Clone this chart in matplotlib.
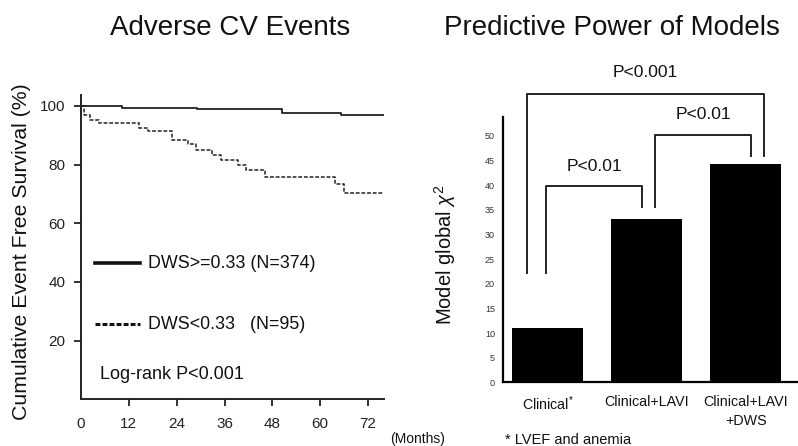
import matplotlib
matplotlib.use("Agg")
import matplotlib.pyplot as plt

plt.rcParams['font.family'] = ['Liberation Sans', 'DejaVu Sans']
plt.rcParams['mathtext.fontset'] = 'custom'
plt.rcParams['mathtext.rm'] = 'Liberation Sans'
plt.rcParams['mathtext.it'] = 'Liberation Sans:italic'

# Kaplan-Meier curves (months, % event free)
high_t = [0, 10.2, 29.1, 50.5, 65.2, 76]
high_s = [100, 99.3, 98.8, 97.7, 96.9, 96.9]
low_t = [0, 0.8, 2.3, 4.5, 14.6, 16.7, 22.8, 26.8, 28.9, 32.9, 35.0, 39.4,
         41.5, 46.1, 63.7, 66.0, 76]
low_s = [100, 97.0, 95.3, 94.3, 92.6, 91.3, 88.3, 86.9, 84.8, 83.1, 81.4, 79.7,
         78.0, 75.9, 73.2, 70.3, 70.3]
month_ticks = [0, 12, 24, 36, 48, 60, 72]
surv_ticks = [20, 40, 60, 80, 100]

# Model chi-square
models = ["Clinical$^{*}$", "Clinical+LAVI", "Clinical+LAVI\n+DWS"]
chi2 = [11.0, 33.2, 44.4]
chi_ticks = list(range(0, 55, 5))

# significance brackets: (x left, x right, y left foot, y right foot, y top, label, label y)
brackets = [
    (-0.02, 0.957, 22.2, 35.6, 39.9, "P<0.01", 43.8),
    (1.084, 2.058, 35.6, 45.9, 50.2, "P<0.01", 54.3),
    (-0.215, 2.19, 22.1, 45.9, 58.5, "P<0.001", 62.9),
]

fig = plt.figure(figsize=(7.98, 4.46), dpi=100)

# ---- left: survival
ax1 = fig.add_axes([0.1015, 0.1047, 0.3797, 0.6823])
ax1.step(high_t, high_s, where='post', color='#222222', lw=1.3)
ax1.step(low_t, low_s, where='post', color='#222222', lw=1.1, linestyle=(0, (2.5, 1.2)))
ax1.set_xlim(0, 76)
ax1.set_ylim(0, 103.7)
ax1.set_xticks(month_ticks)
ax1.set_yticks(surv_ticks)
ax1.tick_params(axis='both', labelsize=11, length=5, width=1.3, colors='#222222')
ax1.tick_params(axis='x', pad=8)
ax1.tick_params(axis='y', pad=6)
ax1.xaxis.get_major_ticks()[0].tick1line.set_visible(False)
for s in ['top', 'right']:
    ax1.spines[s].set_visible(False)
for s in ['left', 'bottom']:
    ax1.spines[s].set_linewidth(1.4)
    ax1.spines[s].set_color('#222222')

ax1.plot([0.046, 0.195], [0.447, 0.447], transform=ax1.transAxes, color='#111111', lw=2.6)
ax1.text(0.221, 0.447, "DWS>=0.33 (N=374)", transform=ax1.transAxes, fontsize=12.9,
         va='center', color='#111111')
ax1.plot([0.046, 0.195], [0.246, 0.246], transform=ax1.transAxes, color='#111111', lw=2.2,
         linestyle=(0, (1.6, 0.7)))
ax1.text(0.221, 0.246, "DWS<0.33   (N=95)", transform=ax1.transAxes, fontsize=12.9,
         va='center', color='#111111')
ax1.text(0.063, 0.08, "Log-rank P<0.001", transform=ax1.transAxes, fontsize=13,
         va='center', color='#111111')

fig.text(0.027, 0.435, "Cumulative Event Free Survival (%)", rotation=90, fontsize=15.3,
         ha='center', va='center', color='#111111')
fig.text(0.523, 0.016, "(Months)", fontsize=10, ha='center', va='center', color='#111111')
fig.text(0.288, 0.937, "Adverse CV Events", fontsize=20, ha='center', va='center',
         color='#111111')

# ---- right: chi-square bars
ax2 = fig.add_axes([0.6307, 0.1428, 0.3693, 0.5943])
xs = list(range(len(models)))
ax2.bar(xs, chi2, width=0.714, color='black')
ax2.set_xlim(-0.45, 2.53)
ax2.set_ylim(0, 53.8)
ax2.set_yticks(chi_ticks)
ax2.set_xticks(xs)
ax2.set_xticklabels(models, fontsize=10.3, color='#111111', linespacing=1.45)
ax2.tick_params(axis='y', length=0, labelsize=6.5, labelcolor='#333333', pad=6)
ax2.tick_params(axis='x', length=0, pad=9)
for s in ['top', 'right']:
    ax2.spines[s].set_visible(False)
for s in ['left', 'bottom']:
    ax2.spines[s].set_linewidth(1.6)

for xl, xr, yl, yr, yt, lab, ly in brackets:
    ax2.plot([xl, xl, xr, xr], [yl, yt, yt, yr], color='#222222', lw=1.4, clip_on=False)
    ax2.text((xl + xr) / 2, ly, lab, fontsize=12.6, ha='center', va='center',
             color='#111111', clip_on=False)

fig.text(0.558, 0.428, r"Model global $\chi^2$", rotation=90, fontsize=14.5,
         ha='center', va='center', color='#111111')
fig.text(0.633, 0.005, "* LVEF and anemia", fontsize=10.5, ha='left', va='baseline',
         color='#111111')
fig.text(0.767, 0.937, "Predictive Power of Models", fontsize=20, ha='center',
         va='center', color='#111111')

fig.savefig("out.png", dpi=100)
